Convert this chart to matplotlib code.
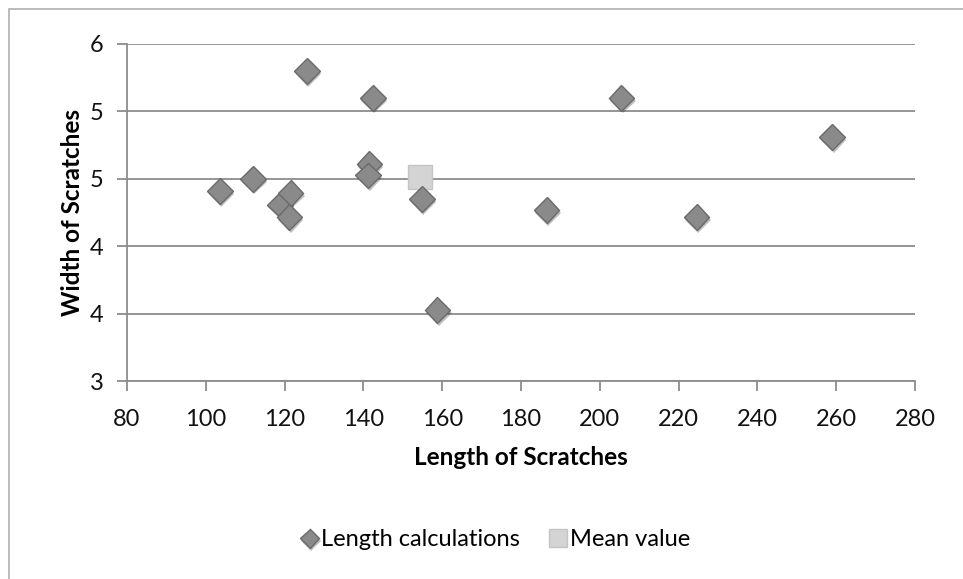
import matplotlib.pyplot as plt
import matplotlib.patheffects as pe
from matplotlib.patches import Rectangle
from matplotlib.ticker import FuncFormatter

length = [103.6, 112.0, 125.7, 142.4, 141.5, 141.2, 118.8, 121.5, 121.2,
          154.9, 158.8, 186.5, 205.5, 224.6, 259.0]
width = [4.69, 4.80, 5.76, 5.52, 4.93, 4.83, 4.57, 4.675, 4.46,
         4.62, 3.63, 4.52, 5.52, 4.46, 5.17]
mean_length = [154.4]
mean_width = [4.82]

plt.rcParams['font.family'] = ['Lato', 'DejaVu Sans']

fig = plt.figure(figsize=(9.63, 5.79), dpi=100)
fig.patches.append(Rectangle((9 / 963, -0.05), 1.1, 1 - 9 / 579 + 0.05,
                             transform=fig.transFigure, fill=False,
                             edgecolor='#b0b0b0', linewidth=1.2))

ax = fig.add_axes([127 / 963, 1 - 381 / 579, (915 - 127) / 963, (381 - 44) / 579])

shadow = [pe.SimplePatchShadow(offset=(1, -2), alpha=0.3), pe.Normal()]
ax.plot(length, width, linestyle='none', marker='D', markersize=13,
        markerfacecolor='#8a8a8a', markeredgecolor='#6a6a6a', markeredgewidth=1,
        label='Length calculations', path_effects=shadow, zorder=3)
ax.plot(mean_length, mean_width, linestyle='none', marker='s', markersize=17,
        markerfacecolor='#d4d4d4', markeredgecolor='#c4c4c4', markeredgewidth=1,
        label='Mean value', zorder=2)

ax.set_xlim(80, 280)
ax.set_ylim(3, 6)
ax.set_xticks(range(80, 281, 20))
ax.set_yticks([3.0, 3.6, 4.2, 4.8, 5.4, 6.0])
ax.yaxis.set_major_formatter(FuncFormatter(lambda v, p: f'{v:.0f}'))
ax.grid(axis='y', color='#8c8c8c', linewidth=1.3)
ax.set_axisbelow(True)

for s in ['top', 'right']:
    ax.spines[s].set_visible(False)
for s in ['left', 'bottom']:
    ax.spines[s].set_color('#8c8c8c')
    ax.spines[s].set_linewidth(1.3)
ax.tick_params(axis='both', direction='out', length=7, width=1.3, color='#8c8c8c',
               labelsize=17, labelcolor='#111111')
ax.tick_params(axis='x', pad=13.5)
ax.tick_params(axis='y', pad=10)

ax.set_xlabel('Length of Scratches', fontsize=17.5, fontweight='bold', labelpad=11)
ax.set_ylabel('Width of Scratches', fontsize=17.5, fontweight='bold', labelpad=4)

fig.legend(loc='center', bbox_to_anchor=(0.513, 1 - 540 / 579), ncol=2, frameon=False,
           fontsize=17, handletextpad=0.0, columnspacing=1.1, markerscale=0.75,
           handlelength=1.0)

plt.savefig('out.png', dpi=100)
